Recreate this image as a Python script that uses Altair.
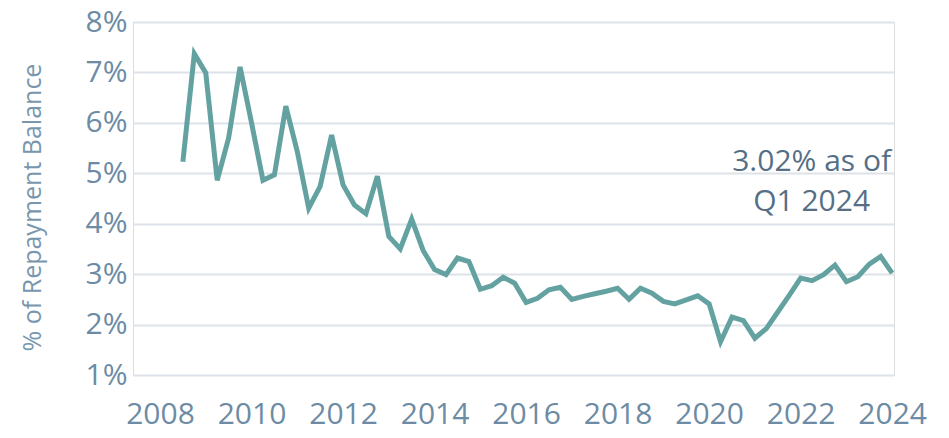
import altair as alt
import pandas as pd

# Quarterly series: Q3 2008 .. Q1 2024 (percent of repayment balance)
start_year = 2008.5
values = [5.23, 7.37, 6.99, 4.86, 5.70, 7.11, 6.00, 4.86, 4.97, 6.33,
          5.43, 4.31, 4.74, 5.76, 4.77, 4.37, 4.20, 4.94, 3.75, 3.50,
          4.09, 3.47, 3.09, 2.99, 3.32, 3.25, 2.70, 2.77, 2.94, 2.82,
          2.44, 2.52, 2.69, 2.74, 2.50, 2.56, 2.61, 2.66, 2.72, 2.50,
          2.72, 2.62, 2.46, 2.41, 2.49, 2.57, 2.41, 1.66, 2.15, 2.08,
          1.73, 1.92, 2.25, 2.58, 2.92, 2.87, 2.99, 3.18, 2.85, 2.95,
          3.20, 3.35, 3.02]
x_ticks = [2008, 2010, 2012, 2014, 2016, 2018, 2020, 2022, 2024]
y_ticks = [1, 2, 3, 4, 5, 6, 7, 8]
annotation = ["3.02% as of", "Q1 2024"]
annotation_x = [2022.24, 2022.24]
annotation_y = [5.23, 4.43]

df = pd.DataFrame({
    "year": [start_year + 0.25 * i for i in range(len(values))],
    "rate": values,
})
ann = pd.DataFrame({"x": annotation_x, "y": annotation_y, "t": annotation})

FONT = "Open Sans"
LABEL = "#6d8ba4"

xscale = alt.Scale(domain=[2007.41, 2024.04], nice=False, zero=False)
yscale = alt.Scale(domain=[1, 8], nice=False, zero=False)

line = alt.Chart(df).mark_line(color="#64a2a2", strokeWidth=5).encode(
    x=alt.X("year:Q", scale=xscale,
            axis=alt.Axis(values=x_ticks, format="d", grid=False, domain=False,
                          ticks=False, labelFontSize=30, labelColor=LABEL,
                          labelFont=FONT, labelPadding=24, title=None,
                          labelFlush=False, labelOverlap=False)),
    y=alt.Y("rate:Q", scale=yscale,
            axis=alt.Axis(values=y_ticks, labelExpr="datum.value + '%'",
                          grid=True, gridColor="#dde3e9", gridWidth=2,
                          domain=False, ticks=False, labelFontSize=30,
                          labelColor=LABEL, labelFont=FONT, labelPadding=6,
                          title="% of Repayment Balance", titleFontSize=25,
                          titleFont=FONT, titleFontWeight="normal",
                          titleColor="#7896ad", titleX=-88, titleY=185,
                          labelFlush=False)),
)

text = alt.Chart(ann).mark_text(fontSize=30, font=FONT, color="#566f86",
                                align="center", baseline="middle").encode(
    x=alt.X("x:Q", scale=xscale),
    y=alt.Y("y:Q", scale=yscale),
    text="t:N",
)

chart = alt.layer(line, text).properties(
    width=761, height=353,
    autosize=alt.AutoSizeParams(type="none"),
    padding={"left": 125, "top": 14, "right": 47, "bottom": 55},
).configure_view(stroke=None).configure(background="white")

chart.save("out.html", embed_options={"renderer": "svg", "actions": False})
